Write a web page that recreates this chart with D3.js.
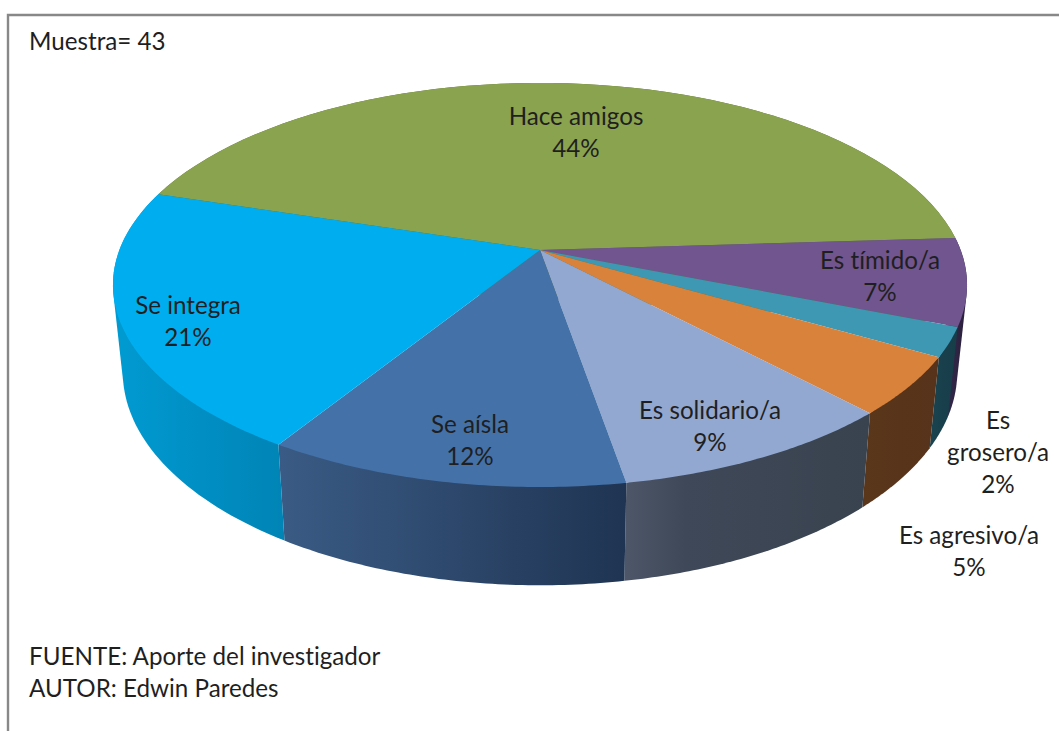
<!DOCTYPE html>
<html><head><meta charset="utf-8">
<script src="https://cdn.jsdelivr.net/npm/d3@7/dist/d3.min.js"></script>
<style>html,body{margin:0;padding:0;background:#fff}svg{display:block}text{font-family:Lato,sans-serif;fill:#1f1f1f;font-size:24.2px;font-variant-ligatures:none}</style>
</head><body><svg id="c" width="1059" height="731"></svg>
<script>
// Data: respondents out of the sample of 43, in pie order
const categories = ["Hace amigos","Es tímido/a","Es grosero/a","Es agresivo/a","Es solidario/a","Se aísla","Se integra"];
const counts = [19,3,1,2,4,5,9];
const percentLabels = ["44%","7%","2%","5%","9%","12%","21%"];
const sampleText = "Muestra= 43";
const sourceLines = ["FUENTE: Aporte del investigador","AUTOR: Edwin Paredes"];

// Styles
const topColors = ["#8aa34f","#70558e","#3e97b3","#d9823b","#92a8d0","#4472a8","#00aeef"];
const sideStart = ["#5a6b34","#33284a","#1a4450","#5a361a","#4d5769","#3a5b85","#009bd2"];
const sideMid   = ["#5a6b34","#2e2443","#183f4b","#58341a","#3e4858","#2d486c","#008fc4"];
const sideEnd   = ["#5a6b34","#2a1f3c","#163e49","#56331a","#39434f","#1f3452","#0084b6"];
// Text layout: [x centre, first baseline] and the line breaks of each label
const labelLines = [["Hace amigos"],["Es tímido/a"],["Es","grosero/a"],["Es agresivo/a"],["Es solidario/a"],["Se aísla"],["Se integra"]];
const labelPos = [[576,125],[880,269],[998,429],[969,544],[710,419],[470,433],[188,314]];
const lineGap = 32;

// Perspective of the pie
const apex = {x:540,y:250}, R = 420.6, H = 196, k = 0.173;
const start = -72.6*Math.PI/180;
const wall = {sx:0.977, sy:1.056, dy:71};

const project = a => { // a: d3.pie angle, clockwise from 12 o'clock
  const u = Math.sin(a), v = -Math.cos(a), s = 1/(1-k*v);
  return [apex.x+R*u*s, apex.y+H*v*s];
};
const lower = p => [apex.x+(p[0]-apex.x)*wall.sx, wall.sy*p[1]+wall.dy];

const arcs = d3.pie().sort(null).value(d=>d).startAngle(start).endAngle(start+2*Math.PI)(counts);
const rim = d => d3.range(0,61).map(i=>project(d.startAngle+(d.endAngle-d.startAngle)*i/60));
const line = d3.line();
const svg = d3.select("#c");

// Frame
svg.append("path").attr("d",line([[8,731],[8,15],[1059,15]]))
  .attr("fill","none").attr("stroke","#888").attr("stroke-width",2.4);

// Side gradients
const defs = svg.append("defs");
arcs.forEach((d,i)=>{
  const g = defs.append("linearGradient").attr("id","s"+i).attr("x1",0).attr("x2",1).attr("y1",0).attr("y2",0);
  g.append("stop").attr("offset",0).attr("stop-color",sideStart[i]);
  g.append("stop").attr("offset",i===4?0.25:0.5).attr("stop-color",sideMid[i]);
  g.append("stop").attr("offset",1).attr("stop-color",sideEnd[i]);
});

// Walls (swept outline of each rim segment), then top faces
svg.append("g").selectAll("path").data(arcs).join("path")
  .attr("d",d=>{const r=rim(d);return line(d3.polygonHull(r.concat(r.map(lower))))+"Z";})
  .attr("fill",(d,i)=>`url(#s${i})`);
svg.append("g").selectAll("path").data(arcs).join("path")
  .attr("d",d=>line([[apex.x,apex.y]].concat(rim(d)))+"Z")
  .attr("fill",(d,i)=>topColors[i]);

// Labels
categories.forEach((c,i)=>{
  const t = svg.append("text").attr("text-anchor","middle");
  labelLines[i].concat(percentLabels[i]).forEach((l,j)=>{
    t.append("tspan").attr("x",labelPos[i][0]).attr("y",labelPos[i][1]+j*lineGap).text(l);
  });
});
svg.append("text").attr("x",29).attr("y",50).text(sampleText);
svg.selectAll("text.src").data(sourceLines).join("text").attr("class","src")
  .attr("x",29).attr("y",(d,i)=>665+i*32).text(d=>d);
</script></body></html>
